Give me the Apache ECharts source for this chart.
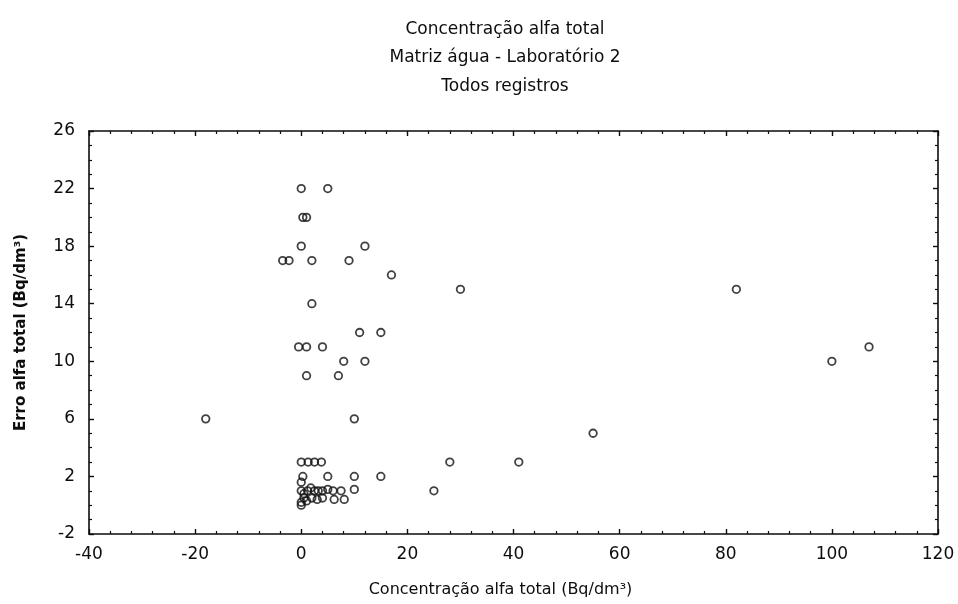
<!DOCTYPE html>
<html>
<head>
<meta charset="utf-8">
<script src="https://cdn.jsdelivr.net/npm/echarts@6/dist/echarts.min.js"></script>
<style>
html,body{margin:0;padding:0;background:#fff;}
#chart{width:958px;height:604px;}
</style>
</head>
<body>
<div id="chart"></div>
<script>
// Data
var titleLines = ['Concentração alfa total', 'Matriz água - Laboratório 2', 'Todos registros'];
var xName = 'Concentração alfa total (Bq/dm³)';
var yName = 'Erro alfa total (Bq/dm³)';
var xTicks = [-40, -20, 0, 20, 40, 60, 80, 100, 120];
var yTicks = [-2, 2, 6, 10, 14, 18, 22, 26];

var concentration = [
  0, 5,
  0.3, 1,
  0, 12,
  -3.5, -2.3, 2, 9,
  17,
  30, 82,
  2,
  11, 15,
  -0.5, 1, 4, 107,
  8, 12, 100,
  1, 7,
  -18, 10,
  55,
  0, 1.3, 2.5, 3.8, 28, 41,
  0.3, 5, 10, 15,
  0, 0, 0.5, 1.2, 1.8, 2.5, 3.2, 4, 5, 6, 7.5, 10, 25,
  0.5, 1, 2, 3, 4, 6.2, 8.1, 0, 0
];
var error = [
  22, 22,
  20, 20,
  18, 18,
  17, 17, 17, 17,
  16,
  15, 15,
  14,
  12, 12,
  11, 11, 11, 11,
  10, 10, 10,
  9, 9,
  6, 6,
  5,
  3, 3, 3, 3, 3, 3,
  2, 2, 2, 2,
  1.6, 1, 0.8, 1, 1.2, 1, 1, 1, 1.1, 1, 1, 1.1, 1,
  0.5, 0.3, 0.5, 0.4, 0.5, 0.4, 0.4, 0.2, 0
];

var points = concentration.map(function (x, i) { return [x, error[i]]; });

var FONT = 'DejaVu Sans';
var INK = '#0d0d0d';

function makeX(pos, showLabels) {
  return {
    type: 'value',
    position: pos,
    min: xTicks[0],
    max: xTicks[xTicks.length - 1],
    interval: xTicks[1] - xTicks[0],
    name: showLabels ? xName : '',
    nameLocation: 'middle',
    nameGap: 48,
    nameTextStyle: { fontFamily: FONT, fontSize: 16, color: INK, padding: [0, 26, 0, 0] },
    axisLine: { show: true, onZero: false, lineStyle: { color: INK, width: 1.6 } },
    axisTick: { show: true, inside: true, length: 5, lineStyle: { color: INK, width: 1.4 } },
    minorTick: { show: true, splitNumber: 5, length: 3, lineStyle: { color: INK, width: 1.2 } },
    axisLabel: { show: showLabels, margin: 12, fontFamily: FONT, fontSize: 17, color: INK },
    splitLine: { show: false }
  };
}
function makeY(pos, showLabels) {
  return {
    type: 'value',
    position: pos,
    min: yTicks[0],
    max: yTicks[yTicks.length - 1],
    interval: yTicks[1] - yTicks[0],
    name: showLabels ? yName : '',
    nameLocation: 'middle',
    nameGap: 60,
    nameRotate: 90,
    nameTextStyle: { fontFamily: FONT, fontSize: 15, fontWeight: 'bold', color: INK },
    axisLine: { show: true, onZero: false, lineStyle: { color: INK, width: 1.6 } },
    axisTick: { show: true, inside: true, length: 5, lineStyle: { color: INK, width: 1.4 } },
    minorTick: { show: true, splitNumber: 4, length: 3, lineStyle: { color: INK, width: 1.2 } },
    axisLabel: { show: showLabels, margin: 14, fontFamily: FONT, fontSize: 17, color: INK },
    splitLine: { show: false }
  };
}

var chart = echarts.init(document.getElementById('chart'), null, { renderer: 'canvas' });
chart.setOption({
  animation: false,
  backgroundColor: '#ffffff',
  title: {
    text: titleLines.join('\n'),
    left: 500,
    textAlign: 'center',
    top: 10,
    textStyle: { fontFamily: FONT, fontSize: 17, fontWeight: 'normal', color: INK, lineHeight: 28.5 }
  },
  grid: { left: 89, right: 20, top: 131, bottom: 70, containLabel: false },
  xAxis: [makeX('bottom', true), makeX('top', false)],
  yAxis: [makeY('left', true), makeY('right', false)],
  series: [{
    type: 'scatter',
    xAxisIndex: 0,
    yAxisIndex: 0,
    data: points,
    symbol: 'circle',
    symbolSize: 7.5,
    itemStyle: { color: 'rgba(255,255,255,0)', borderColor: '#111', borderWidth: 1.8 }
  }]
});
</script>
</body>
</html>
